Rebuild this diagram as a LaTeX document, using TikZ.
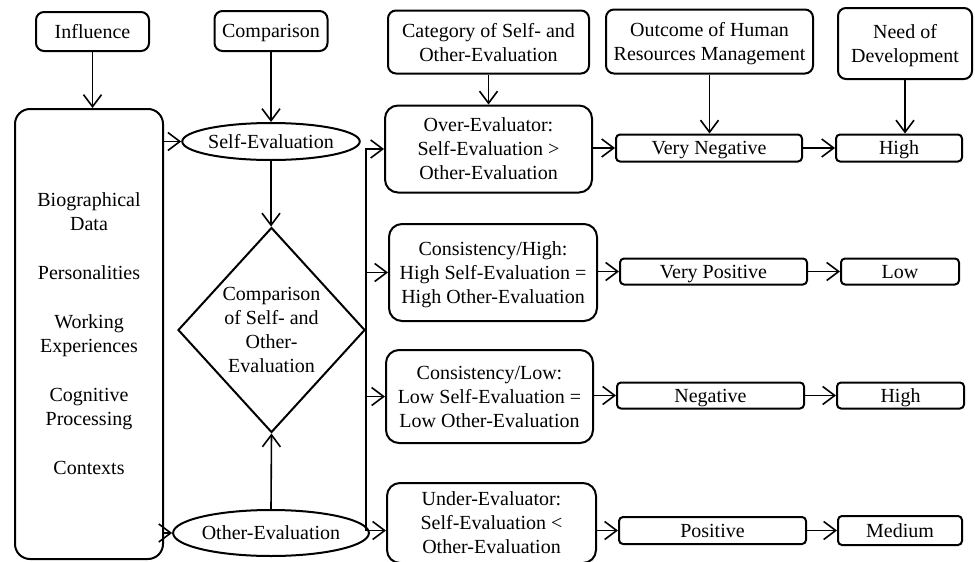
\documentclass[tikz,border=0pt]{standalone}
\usepackage{fontspec}
\setmainfont{Liberation Serif}
\usetikzlibrary{arrows.meta,shapes.geometric}
\tikzset{
	box/.style={draw, line width=2pt, rounded corners=#1, align=center, inner sep=0pt, text depth=0pt},
	box/.default=8pt,
	oval/.style={draw, ellipse, line width=2pt, inner sep=0pt, text depth=0pt, minimum width=159pt},
	arr/.style={line width=1.6pt, -{Straight Barb[length=12pt,width=18pt]}},
}
\begin{document}
\begin{tikzpicture}[x=1pt, y=-1pt, font=\fontsize{20pt}{24pt}\selectfont]
			\useasboundingbox (0,0) rectangle (975,562);
			% headings
			\node[box, minimum width=113pt, minimum height=39pt] (infl) at (92.5,31.5) {Influence};
			\node[box, minimum width=113pt, minimum height=40pt] (cmpr) at (271,31)	{Comparison};
			\node[box, minimum width=201pt, minimum height=63pt] (cat)  at (488.5,42) {Category of Self- and\\Other-Evaluation};
			\node[box, minimum width=207pt, minimum height=64pt] (hrm)  at (709.5,41.5)	{Outcome of Human\\Resources Management};
			\node[box, minimum width=134pt, minimum height=71pt] (need) at (905,43.5)	{Need of\\Development};
			% left part
			\node[box=15pt, minimum width=148pt, minimum height=450pt] (factors) at (89,334)
				{Biographical\\Data\\[25pt]Personalities\\[25pt]Working\\Experiences\\[25pt]Cognitive\\Processing\\[25pt]Contexts};
			\node[oval, minimum height=37pt] (self)  at (271,141.5) {Self-Evaluation};
			\node[oval, minimum height=46pt] (other) at (271,533)	{Other-Evaluation};
			\node[draw, diamond, line width=2pt, inner sep=0pt, aspect=0.91, align=center,
				minimum width=187pt, minimum height=205pt] (cmp) at (271.5,330)
				{Comparison\\of Self- and\\Other-\\Evaluation};
			% categories
			\node[box=13pt, minimum width=207pt, minimum height=87pt] (over)   at (488.5,149)	{Over-Evaluator:\\Self-Evaluation >\\Other-Evaluation};
			\node[box=13pt, minimum width=208pt, minimum height=97pt] (conshi) at (493,272.5)	{Consistency/High:\\High Self-Evaluation =\\High Other-Evaluation};
			\node[box=13pt, minimum width=207pt, minimum height=93pt] (conslo) at (489.5,396.5) {Consistency/Low:\\Low Self-Evaluation =\\Low Other-Evaluation};
			\node[box=13pt, minimum width=209pt, minimum height=80pt] (under)  at (491.5,523)	{Under-Evaluator:\\Self-Evaluation <\\Other-Evaluation};
			% outcomes and needs
			\node[box=4pt, minimum width=186pt, minimum height=27pt] (vneg)  at (709,148)	{Very Negative};
			\node[box=4pt, minimum width=126pt, minimum height=27pt] (high1) at (899,148)	{High};
			\node[box=4pt, minimum width=187pt, minimum height=26pt] (vpos)  at (713.5,271.5) {Very Positive};
			\node[box=4pt, minimum width=118pt, minimum height=26pt] (low)   at (900,271.5)	{Low};
			\node[box=4pt, minimum width=187pt, minimum height=26pt] (neg)   at (710.5,395.5) {Negative};
			\node[box=4pt, minimum width=127pt, minimum height=26pt] (high2) at (900.5,395.5) {High};
			\node[box=4pt, minimum width=187pt, minimum height=27pt] (pos)   at (712.5,530.5) {Positive};
			\node[box=4pt, minimum width=124pt, minimum height=29pt] (med)   at (900,530.5)	{Medium};
			%
			\def\downlist {infl/factors, cmpr/self, self/cmp, cat/over, hrm/vneg, need/high1}  % list elements
			\foreach \u\v in \downlist
			{	\draw[arr] (\u.south) -- (\u.south |- \v.north);
			}
			\draw[arr] (other.north) -- (cmp.south);
			\foreach \v in {self, other}
			{	\draw[arr] (factors.east |- \v.west) -- (\v.west);
			}
			% branches from the comparison
			\foreach \v in {over, conshi, conslo}
			{	\draw[arr] (cmp.east) |- (\v.west);
			}
			\draw[arr] (cmp.east) |- (under.west |- pos.west);
			\def\rowlist {vneg/high1, vpos/low, neg/high2, pos/med}  % list elements
			\foreach \u\v in \rowlist
			{	\draw[arr] (\u.east) -- (\v.west);
			}
			\def\catlist {over/vneg, conshi/vpos, conslo/neg, under/pos}
			\foreach \u\v in \catlist
			{	\draw[arr] (\u.east |- \v.west) -- (\v.west);
			}
\end{tikzpicture}
\end{document}
